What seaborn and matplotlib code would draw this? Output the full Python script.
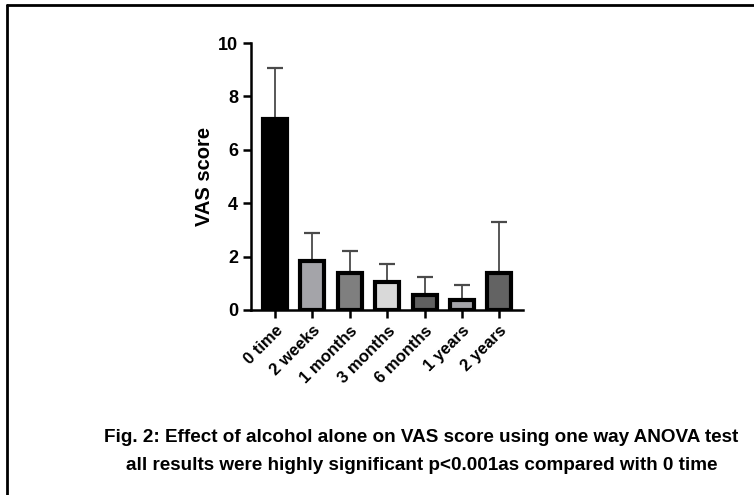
import matplotlib
matplotlib.use("Agg")
import matplotlib.pyplot as plt
import seaborn as sns
import numpy as np

# data
groups = ['0 time', '2 weeks', '1 months', '3 months', '6 months', '1 years', '2 years']
vas_mean = [7.15, 1.83, 1.38, 1.04, 0.57, 0.38, 1.38]
vas_sd = [1.91, 1.05, 0.84, 0.68, 0.67, 0.54, 1.90]
bar_colors = ['#000000', '#a3a3aa', '#7f7f7f', '#d9d9d9', '#606060', '#a3a3aa', '#636363']

sns.set_style("white")
plt.rcParams['font.family'] = ['Liberation Sans', 'DejaVu Sans']
plt.rcParams['text.color'] = 'black'
plt.rcParams['axes.labelcolor'] = 'black'
plt.rcParams['xtick.color'] = 'black'
plt.rcParams['ytick.color'] = 'black'

fig = plt.figure(figsize=(7.54, 4.95), dpi=100)
ax = fig.add_axes([0.333, 0.374, 0.361, 0.539])

sns.barplot(x=groups, y=vas_mean, hue=groups, palette=bar_colors, legend=False,
            width=0.64, edgecolor='black', linewidth=3.0, ax=ax, zorder=3)
ax.errorbar(np.arange(len(groups)), vas_mean, yerr=[np.zeros(len(groups)), vas_sd],
            fmt='none', ecolor='#4a4a4a', elinewidth=1.3, capsize=6, capthick=1.6, zorder=2)

ax.set_ylim(0, 10)
ax.set_xlim(-0.64, 6.64)
ax.set_yticks([0, 2, 4, 6, 8, 10])
ax.set_ylabel('VAS score', fontsize=14.5, fontweight='bold', labelpad=3)
ax.set_xlabel('')
for s in ['top', 'right']:
    ax.spines[s].set_visible(False)
for s in ['left', 'bottom']:
    ax.spines[s].set_linewidth(1.8)
    ax.spines[s].set_color('black')
ax.tick_params(axis='both', direction='out', length=6, width=1.8, bottom=True, left=True)
ax.set_yticklabels([0, 2, 4, 6, 8, 10], fontsize=13, fontweight='bold')
ax.set_xticks(range(len(groups)))
ax.set_xticklabels(groups, rotation=45, ha='right', rotation_mode='anchor', fontsize=12, fontweight='bold')

fig.text(0.559, 0.117, 'Fig. 2: Effect of alcohol alone on VAS score using one way ANOVA test',
         ha='center', va='center', fontsize=13.6, fontweight='bold')
fig.text(0.559, 0.06, 'all results were highly significant p<0.001as compared with 0 time',
         ha='center', va='center', fontsize=13.6, fontweight='bold')

# frame lines on the left and top
fig.add_artist(plt.Line2D([0.0093, 0.0093], [0, 0.99], color='black', lw=2, transform=fig.transFigure))
fig.add_artist(plt.Line2D([0.0093, 1], [0.99, 0.99], color='black', lw=2, transform=fig.transFigure))

fig.savefig('out.png', dpi=100)
